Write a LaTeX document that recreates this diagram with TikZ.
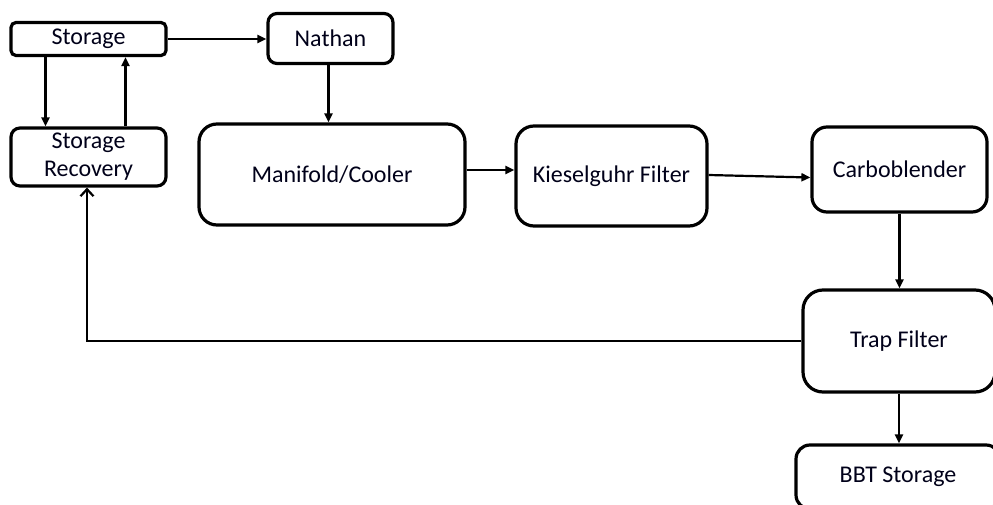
\documentclass[tikz,border=0pt]{standalone}
\usepackage{fontspec}
\setmainfont{Carlito}
\usetikzlibrary{arrows.meta}
\begin{document}
\begin{tikzpicture}[x=1pt,y=-1pt,
  box/.style={draw=black, line width=3.2pt, fill=white, inner sep=0pt,
    font=\fontsize{24}{28}\selectfont, text=black!90!blue, align=center},
  flow/.style={line width=2.2pt, -{Triangle[length=9pt,width=8pt]}},
  back/.style={line width=2.2pt, -{Straight Barb[length=7pt,width=13pt,line width=2.2pt]}}]
\useasboundingbox (0,0) rectangle (993,505);

% process stages
\node[box, minimum width=155pt, minimum height=33pt, rounded corners=5pt]  (st)  at (88.5,39)   {Storage};
\node[box, minimum width=125pt, minimum height=50pt, rounded corners=9pt]  (na)  at (330.5,38.5) {Nathan};
\node[box, minimum width=155pt, minimum height=58pt, rounded corners=9pt]  (sr)  at (88.5,157)  {Storage\\Recovery};
\node[box, minimum width=266pt, minimum height=101pt, rounded corners=18pt] (mc) at (332,174.5) {Manifold/Cooler};
\node[box, minimum width=191pt, minimum height=100pt, rounded corners=18pt] (kf) at (611.5,176) {Kieselguhr Filter};
\node[box, minimum width=175pt, minimum height=85pt, rounded corners=15pt] (cb)  at (899.5,169.5) {Carboblender};
\node[box, minimum width=192pt, minimum height=102pt, rounded corners=20pt] (tf) at (899,341) {Trap Filter};
\node[box, minimum width=204pt, minimum height=64pt, rounded corners=14pt] (bbt) at (898,477) {BBT Storage};

% connectors
\draw[flow] ([xshift=-43pt]st.south) -- ([xshift=-43pt]sr.north);
\draw[flow] ([xshift=37pt]sr.north) -- ([xshift=37pt]st.south);
\draw[flow] (st.east) -- (st.east -| na.west);
\draw[flow] ([xshift=-2pt]na.south) -- ([xshift=-2pt]na.south |- mc.north);
\draw[flow] ([yshift=4.5pt]mc.east) -- ([yshift=4.5pt]mc.east -| kf.west);
\draw[flow] ([yshift=1pt]kf.east) -- ([yshift=-8pt]cb.west);
\draw[flow] (cb.south) -- (cb.south |- tf.north);
\draw[flow] (tf.south) -- (tf.south |- bbt.north);
\draw[back] (tf.west) -| ([xshift=-1.5pt]sr.south);
\end{tikzpicture}
\end{document}
